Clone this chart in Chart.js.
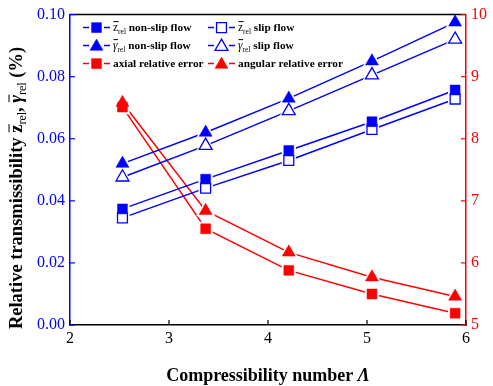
<!DOCTYPE html>
<html><head><meta charset="utf-8">
<script src="https://cdn.jsdelivr.net/npm/chart.js@4/dist/chart.umd.min.js"></script>
<style>html,body{margin:0;padding:0;background:#fff}#wrap{width:493px;height:386px;position:relative}</style>
</head><body><div id="wrap"><canvas id="c" width="493" height="386"></canvas></div>
<script>
const lambda = [2.53, 3.37, 4.21, 5.05, 5.89];
const zNonSlip = [0.0374, 0.0470, 0.0562, 0.0655, 0.0757];
const zSlip = [0.0345, 0.0441, 0.0530, 0.0630, 0.0728];
const gNonSlip = [0.0520, 0.0620, 0.0730, 0.0850, 0.0975];
const gSlip = [0.0476, 0.0578, 0.0690, 0.0805, 0.0920];
const axialErr = [8.51, 6.55, 5.88, 5.50, 5.19];
const angularErr = [8.58, 6.84, 6.17, 5.77, 5.46];
const xTicks = [2, 3, 4, 5, 6];
const yTicks = [0, 0.02, 0.04, 0.06, 0.08, 0.10];
const y1Ticks = [5, 6, 7, 8, 9, 10];
const legendSym = ['z', 'z', 'γ', 'γ', '', ''];
const legendText = ['non-slip flow', 'slip flow', 'non-slip flow', 'slip flow', 'axial relative error', 'angular relative error'];

const BLUE = '#0000ff', RED = '#ff0000', SERIF = "'Liberation Serif','Times New Roman',serif";
const series = [
  {data: zNonSlip, axis: 'y', color: BLUE, style: 'rect', filled: true},
  {data: zSlip, axis: 'y', color: BLUE, style: 'rect', filled: false},
  {data: gNonSlip, axis: 'y', color: BLUE, style: 'triangle', filled: true},
  {data: gSlip, axis: 'y', color: BLUE, style: 'triangle', filled: false},
  {data: axialErr, axis: 'y1', color: RED, style: 'rect', filled: true},
  {data: angularErr, axis: 'y1', color: RED, style: 'triangle', filled: true}
];
const datasets = [];
series.forEach(s => {
  const pts = lambda.map((x, i) => ({x, y: s.data[i]}));
  datasets.push({data: pts, yAxisID: s.axis, borderColor: s.color, borderWidth: 1.5, pointRadius: 0, showLine: true, fill: false, order: 3});
  datasets.push({data: pts, yAxisID: s.axis, showLine: false, pointStyle: s.style, pointRadius: s.style === 'rect' ? 10 : 11,
    backgroundColor: '#fff', borderColor: '#fff', pointBorderWidth: 0, order: 2});
  datasets.push({data: pts, yAxisID: s.axis, showLine: false, pointStyle: s.style, pointRadius: s.style === 'rect' ? 7 : 7.5,
    backgroundColor: s.filled ? s.color : '#fff', borderColor: s.color, pointBorderWidth: s.filled ? 0.5 : 1.3, order: 1});
});

function drawRich(ctx, pieces, x, y) {
  let cx = x;
  pieces.forEach(p => {
    ctx.font = p.font;
    const w = ctx.measureText(p.t).width;
    ctx.fillText(p.t, cx, y + (p.dy || 0));
    if (p.bar) {
      ctx.save(); ctx.lineWidth = 1; ctx.strokeStyle = ctx.fillStyle;
      ctx.beginPath(); ctx.moveTo(cx + 0.5, y + p.bar); ctx.lineTo(cx + w + 0.5, y + p.bar); ctx.stroke(); ctx.restore();
    }
    cx += w;
  });
  return cx - x;
}
function measureRich(ctx, pieces) {
  let w = 0; pieces.forEach(p => { ctx.font = p.font; w += ctx.measureText(p.t).width; }); return w;
}
function drawMarker(ctx, style, filled, color, x, y, r) {
  ctx.save();
  ctx.fillStyle = filled ? color : '#fff'; ctx.strokeStyle = color; ctx.lineWidth = filled ? 0.5 : 1.3;
  ctx.beginPath();
  if (style === 'rect') { const s = r * Math.SQRT1_2; ctx.rect(x - s, y - s, 2 * s, 2 * s); }
  else { ctx.moveTo(x, y - r); ctx.lineTo(x + r * Math.sin(Math.PI / 3), y + r * 0.5); ctx.lineTo(x - r * Math.sin(Math.PI / 3), y + r * 0.5); ctx.closePath(); }
  ctx.fill(); ctx.stroke(); ctx.restore();
}

const decor = {
  id: 'decor',
  afterDraw(chart) {
    const ctx = chart.ctx, a = chart.chartArea, sc = chart.scales;
    ctx.save();
    ctx.strokeStyle = '#000'; ctx.lineWidth = 1.5;
    ctx.beginPath(); ctx.moveTo(a.left, a.top); ctx.lineTo(a.right, a.top); ctx.stroke();
    ctx.lineWidth = 1.2;
    ctx.strokeStyle = '#000';
    xTicks.forEach(v => { const px = sc.x.getPixelForValue(v); ctx.beginPath(); ctx.moveTo(px, a.bottom); ctx.lineTo(px, a.bottom - 5); ctx.stroke(); });
    ctx.strokeStyle = BLUE;
    yTicks.forEach(v => { const py = sc.y.getPixelForValue(v); ctx.beginPath(); ctx.moveTo(a.left, py); ctx.lineTo(a.left + 5, py); ctx.stroke(); });
    ctx.strokeStyle = RED;
    y1Ticks.forEach(v => { const py = sc.y1.getPixelForValue(v); ctx.beginPath(); ctx.moveTo(a.right, py); ctx.lineTo(a.right - 5, py); ctx.stroke(); });
    // legend
    const colX = [a.left + 13, a.left + 138], rowY = [a.top + 13, a.top + 31, a.top + 49];
    ctx.textBaseline = 'middle'; ctx.fillStyle = '#000';
    series.forEach((s, i) => {
      const x0 = colX[i % 2], y = rowY[Math.floor(i / 2)];
      ctx.strokeStyle = s.color; ctx.lineWidth = 1.5;
      ctx.beginPath(); ctx.moveTo(x0, y); ctx.lineTo(x0 + 6, y); ctx.moveTo(x0 + 21, y); ctx.lineTo(x0 + 27, y); ctx.stroke();
      drawMarker(ctx, s.style, s.filled, s.color, x0 + 13.5, y + (s.style === 'rect' ? 0 : 1), s.style === 'rect' ? 7 : 7.5);
      ctx.fillStyle = '#000';
      const pieces = [];
      if (legendSym[i]) {
        pieces.push({t: legendSym[i], font: (legendSym[i] === 'γ' ? 'italic ' : '') + "11.5px " + SERIF, bar: -6});
        pieces.push({t: 'rel', font: "7.5px " + SERIF, dy: 4});
        pieces.push({t: ' ', font: "bold 11.3px " + SERIF});
      }
      pieces.push({t: legendText[i], font: "bold 11.3px " + SERIF});
      drawRich(ctx, pieces, x0 + 30, y);
    });
    // x title
    ctx.textBaseline = 'alphabetic';
    const xt = [{t: 'Compressibility number ', font: "bold 18px " + SERIF}, {t: 'Λ', font: "italic bold 18px " + SERIF}];
    const xw = measureRich(ctx, xt);
    drawRich(ctx, xt, (a.left + a.right) / 2 - xw / 2, 381);
    // y title
    const yt = [
      {t: 'Relative transmissibility ', font: "bold 18.5px " + SERIF},
      {t: 'z', font: "bold 18.5px " + SERIF, bar: -13},
      {t: 'rel', font: "12px " + SERIF, dy: 4},
      {t: ', ', font: "bold 18.5px " + SERIF},
      {t: 'γ', font: "italic bold 18.5px " + SERIF, bar: -13},
      {t: 'rel', font: "12px " + SERIF, dy: 4},
      {t: ' (%)', font: "bold 18.5px " + SERIF}
    ];
    const yw = measureRich(ctx, yt);
    ctx.translate(22, 188); ctx.rotate(-Math.PI / 2);
    drawRich(ctx, yt, -yw / 2, 0);
    ctx.restore();
  }
};

new Chart(document.getElementById('c'), {
  type: 'scatter',
  data: {datasets},
  options: {
    responsive: false, animation: false, devicePixelRatio: 1,
    layout: {padding: {top: 12, left: 0, right: 0, bottom: 0}},
    plugins: {legend: {display: false}, tooltip: {enabled: false}},
    scales: {
      x: {type: 'linear', min: 2, max: 6, afterBuildTicks: s => { s.ticks = xTicks.map(v => ({value: v})); },
        grid: {display: false, drawTicks: false}, border: {display: true, color: '#000', width: 1.5},
        ticks: {color: '#000', font: {family: SERIF, size: 16}, padding: 4, callback: v => String(v)},
        afterFit: s => { s.height = 61; }},
      y: {type: 'linear', position: 'left', min: 0, max: 0.1, afterBuildTicks: s => { s.ticks = yTicks.map(v => ({value: v})); },
        grid: {display: false, drawTicks: false}, border: {display: true, color: BLUE, width: 1.5},
        ticks: {color: BLUE, font: {family: SERIF, size: 16}, padding: 5, callback: v => v.toFixed(2)},
        afterFit: s => { s.width = 70; }},
      y1: {type: 'linear', position: 'right', min: 5, max: 10, afterBuildTicks: s => { s.ticks = y1Ticks.map(v => ({value: v})); },
        grid: {display: false, drawTicks: false}, border: {display: true, color: RED, width: 1.5},
        ticks: {color: RED, font: {family: SERIF, size: 16}, padding: 5, callback: v => String(v)},
        afterFit: s => { s.width = 27; }}
    }
  },
  plugins: [decor]
});
</script></body></html>
